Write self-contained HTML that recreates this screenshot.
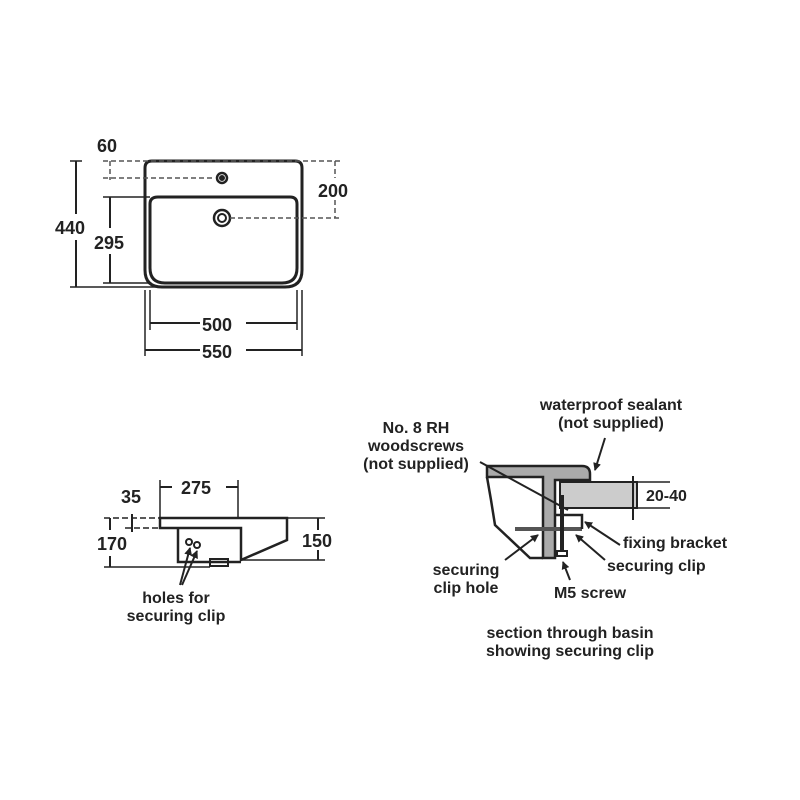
<!DOCTYPE html>
<html><head><meta charset="utf-8"><style>
html,body{margin:0;padding:0;background:#fff;}
svg{display:block;}
text{font-family:"Liberation Sans",sans-serif;font-weight:bold;fill:#222;}
</style></head><body>
<svg width="800" height="800" viewBox="0 0 800 800" xmlns="http://www.w3.org/2000/svg">
<defs><marker id="ah" markerWidth="8" markerHeight="8" refX="7" refY="4" orient="auto" markerUnits="userSpaceOnUse"><path d="M0,0 L8,4 L0,8 z" fill="#222"/></marker></defs>
<g stroke="#222" fill="none" stroke-width="2">
<!-- top view -->
<path d="M152,161 H295 Q302,161 302,168 V270 Q302,287 285,287 H162 Q145,287 145,270 V168 Q145,161 152,161 Z" stroke-width="3"/>
<path d="M158,197 H290 Q297,197 297,204 V268 Q297,283 282,283 H165 Q150,283 150,268 V204 Q150,197 158,197 Z" stroke-width="3"/>
<circle cx="222" cy="178" r="5" stroke-width="2.5"/><circle cx="222" cy="178" r="2" fill="#222"/>
<circle cx="222" cy="218" r="8" stroke-width="2.5"/><circle cx="222" cy="218" r="4"/>
<g stroke-dasharray="5,3" stroke-width="1.5" stroke="#555">
<line x1="103" y1="161" x2="340" y2="161"/>
<line x1="103" y1="178" x2="215" y2="178"/>
<line x1="230" y1="218" x2="340" y2="218"/>
<line x1="110" y1="161" x2="110" y2="180"/>
<line x1="335" y1="161" x2="335" y2="178"/>
<line x1="335" y1="200" x2="335" y2="218"/>
</g>
<line x1="103" y1="197" x2="150" y2="197" stroke-width="1.5"/>
<line x1="103" y1="283" x2="150" y2="283" stroke-width="1.5"/>
<line x1="70" y1="287" x2="160" y2="287" stroke-width="1.5"/>
<line x1="70" y1="161" x2="82" y2="161" stroke-width="1.5"/>
<line x1="76" y1="161" x2="76" y2="214"/><line x1="76" y1="240" x2="76" y2="287"/>
<line x1="110" y1="197" x2="110" y2="228"/><line x1="110" y1="254" x2="110" y2="283"/>
<line x1="150" y1="290" x2="150" y2="330" stroke-width="1.5"/>
<line x1="297" y1="290" x2="297" y2="330" stroke-width="1.5"/>
<line x1="145" y1="290" x2="145" y2="356" stroke-width="1.5"/>
<line x1="302" y1="290" x2="302" y2="356" stroke-width="1.5"/>
<line x1="150" y1="323" x2="200" y2="323"/><line x1="246" y1="323" x2="297" y2="323"/>
<line x1="145" y1="350" x2="200" y2="350"/><line x1="246" y1="350" x2="302" y2="350"/>
<!-- side view -->
<path d="M160,518 H287 V540 L241,560 V528 H160 Z" stroke-width="2.5"/>
<path d="M178,528 V562 H241" stroke-width="2.5"/>
<rect x="210" y="559" width="18" height="7" stroke-width="2"/>
<circle cx="189" cy="542" r="3"/><circle cx="197" cy="545" r="3"/>
<line x1="160" y1="480" x2="160" y2="518" stroke-width="1.5"/>
<line x1="238" y1="480" x2="238" y2="518" stroke-width="1.5"/>
<line x1="160" y1="487" x2="172" y2="487"/><line x1="226" y1="487" x2="238" y2="487"/>
<line x1="104" y1="518" x2="160" y2="518" stroke-width="1.5" stroke-dasharray="6,3"/>
<line x1="125" y1="528" x2="160" y2="528" stroke-width="1.5" stroke-dasharray="6,3"/>
<line x1="104" y1="567" x2="210" y2="567" stroke-width="1.5"/>
<line x1="132" y1="514" x2="132" y2="532"/>
<line x1="110" y1="518" x2="110" y2="530"/><line x1="110" y1="556" x2="110" y2="567"/>
<line x1="287" y1="518" x2="325" y2="518" stroke-width="1.5"/>
<line x1="241" y1="560" x2="325" y2="560" stroke-width="1.5"/>
<line x1="318" y1="518" x2="318" y2="530"/><line x1="318" y1="550" x2="318" y2="560"/>
<line x1="180" y1="585" x2="190" y2="548" marker-end="url(#ah)"/>
<line x1="182" y1="585" x2="197" y2="551" marker-end="url(#ah)"/>
<!-- section -->
<path d="M487,466 H582 Q590,466 590,474 V480 H555 V558 H543 V477 H487 Z" fill="#aaa" stroke-width="2.5"/>
<rect x="560" y="482" width="77" height="26" fill="#ccc" stroke-width="2"/>
<path d="M487,477 L491,500 L495,525 L530,558 H543" stroke-width="2.5"/>
<line x1="515" y1="529" x2="582" y2="529" stroke-width="4" stroke="#555"/>
<path d="M555,515 H582 V529" stroke-width="2.5"/>
<line x1="562" y1="495" x2="562" y2="552" stroke-width="4"/>
<rect x="557" y="551" width="10" height="5" stroke-width="2"/>
<line x1="633" y1="476" x2="633" y2="520" stroke-width="2"/>
<line x1="637" y1="482" x2="670" y2="482" stroke-width="1.5"/>
<line x1="637" y1="508" x2="670" y2="508" stroke-width="1.5"/>
<line x1="480" y1="462" x2="568" y2="510" stroke-width="2"/>
<line x1="605" y1="438" x2="595" y2="470" marker-end="url(#ah)"/>
<line x1="620" y1="545" x2="585" y2="522" marker-end="url(#ah)"/>
<line x1="605" y1="560" x2="576" y2="535" marker-end="url(#ah)"/>
<line x1="570" y1="580" x2="563" y2="562" marker-end="url(#ah)"/>
<line x1="505" y1="560" x2="538" y2="535" marker-end="url(#ah)"/>
</g>
<g font-size="18">
<text x="97" y="152">60</text>
<text x="55" y="234">440</text>
<text x="94" y="249">295</text>
<text x="318" y="197">200</text>
<text x="202" y="331">500</text>
<text x="202" y="358">550</text>
<text x="181" y="494">275</text>
<text x="121" y="503">35</text>
<text x="97" y="550">170</text>
<text x="302" y="547">150</text>
</g>
<g font-size="16" text-anchor="middle">
<text x="176" y="603">holes for</text>
<text x="176" y="621">securing clip</text>
<text x="611" y="410">waterproof sealant</text>
<text x="611" y="428">(not supplied)</text>
<text x="416" y="433">No. 8 RH</text>
<text x="416" y="451">woodscrews</text>
<text x="416" y="469">(not supplied)</text>
<text x="466" y="575">securing</text>
<text x="466" y="593">clip hole</text>
<text x="590" y="598">M5 screw</text>
<text x="570" y="638">section through basin</text>
<text x="570" y="656">showing securing clip</text>
</g>
<g font-size="16">
<text x="623" y="548">fixing bracket</text>
<text x="607" y="571">securing clip</text>
<text x="646" y="501">20-40</text>
</g>
</svg>
</body></html>
